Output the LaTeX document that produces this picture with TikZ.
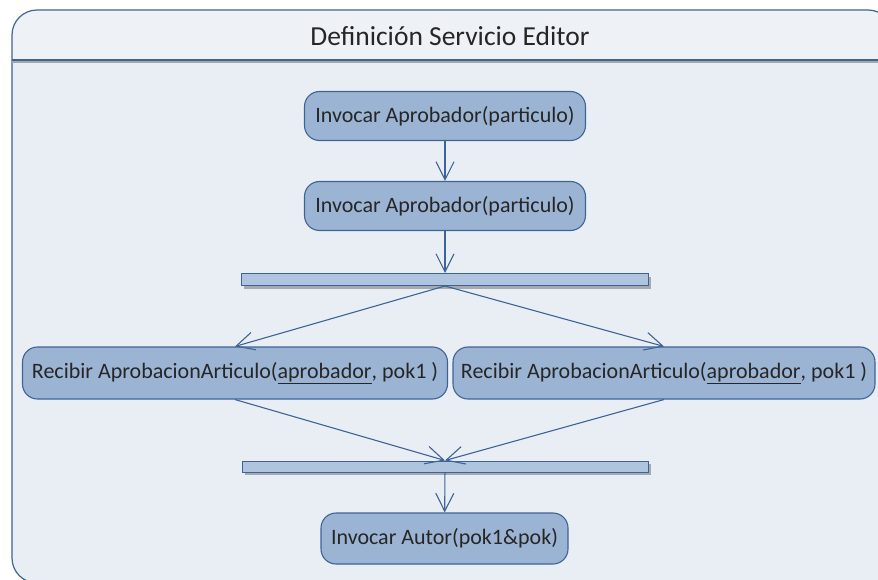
\documentclass[tikz,border=0pt]{standalone}
\usepackage{fontspec}
\setmainfont{Carlito}
\usetikzlibrary{arrows.meta,positioning,shadows}
\definecolor{frameBlue}{HTML}{3D6496}
\definecolor{bodyFill}{HTML}{E9EEF5}
\definecolor{headFill}{HTML}{EEF1F6}
\definecolor{actFill}{HTML}{9CB4D3}
\definecolor{barFill}{HTML}{AFC4DF}
\definecolor{txtGray}{HTML}{262626}
\tikzset{
  act/action/.style={draw=frameBlue, fill=actFill, rounded corners=15pt, line width=1.1pt,
    minimum height=49pt, inner sep=0pt, align=center, text=txtGray,
    font=\fontsize{22}{26}\selectfont},
  act/bar/.style={draw=frameBlue, fill=barFill, line width=1pt, minimum height=12pt, inner sep=0pt,
    drop shadow={shadow xshift=2.5pt, shadow yshift=-3pt, fill=black!60, opacity=.5}},
  act/flow/.style={draw=frameBlue, line width=1.1pt,
    -{Straight Barb[length=18pt,width=18pt,line width=1.1pt]}},
  act/title/.style={font=\fontsize{27.5}{32}\selectfont, text=txtGray, inner sep=0pt}
}

\begin{document}
\begin{tikzpicture}[x=1pt, y=-1pt]
  % frame
  \clip (0,0) rectangle (878,580);
  \fill[bodyFill, rounded corners=25pt] (12,10) rectangle (893,583);
  \begin{scope}
    \clip (0,0) rectangle (878,60);
    \fill[headFill, rounded corners=25pt] (12,10) rectangle (893,583);
  \end{scope}
  \draw[frameBlue, line width=1.2pt, rounded corners=25pt] (12,10) rectangle (893,583);
  \draw[black!35, line width=1.2pt] (12,62) -- (893,62);
  \draw[frameBlue, line width=1.5pt] (12,60) -- (893,60);
  \node[act/title] (title) at (450,36) {Definición Servicio Editor};
  % actions
  \node[act/action, minimum width=281pt] (inv1) at (445,116) {Invocar Aprobador(particulo)};
  \node[act/action, minimum width=281pt] (inv2) at (445,206) {Invocar Aprobador(particulo)};
  \node[act/bar, minimum width=407pt] (fork) at (445,279.5) {};
  \node[act/action, minimum width=425pt, minimum height=52pt] (recA) at (235,373)
    {Recibir AprobacionArticulo(\underline{aprobador}, pok1 )};
  \node[act/action, minimum width=422pt, minimum height=52pt] (recB) at (664,373)
    {Recibir AprobacionArticulo(\underline{aprobador}, pok1 )};
  \node[act/bar, minimum width=406pt, minimum height=11pt] (join) at (445,466.5) {};
  \node[act/action, minimum width=247pt, minimum height=51pt] (autor) at (444.5,538.5)
    {Invocar Autor(pok1\&pok)};
  % flows
  \draw[act/flow] (inv1) -- (inv2);
  \draw[act/flow] (inv2) -- (fork);
  \draw[act/flow] (fork.south) -- (recA.north);
  \draw[act/flow] (fork.south) -- (recB.north);
  \draw[act/flow] (recA.south) -- (join.north);
  \draw[act/flow] (recB.south) -- (join.north);
  \draw[act/flow] (join) -- (autor);
\end{tikzpicture}
\end{document}
